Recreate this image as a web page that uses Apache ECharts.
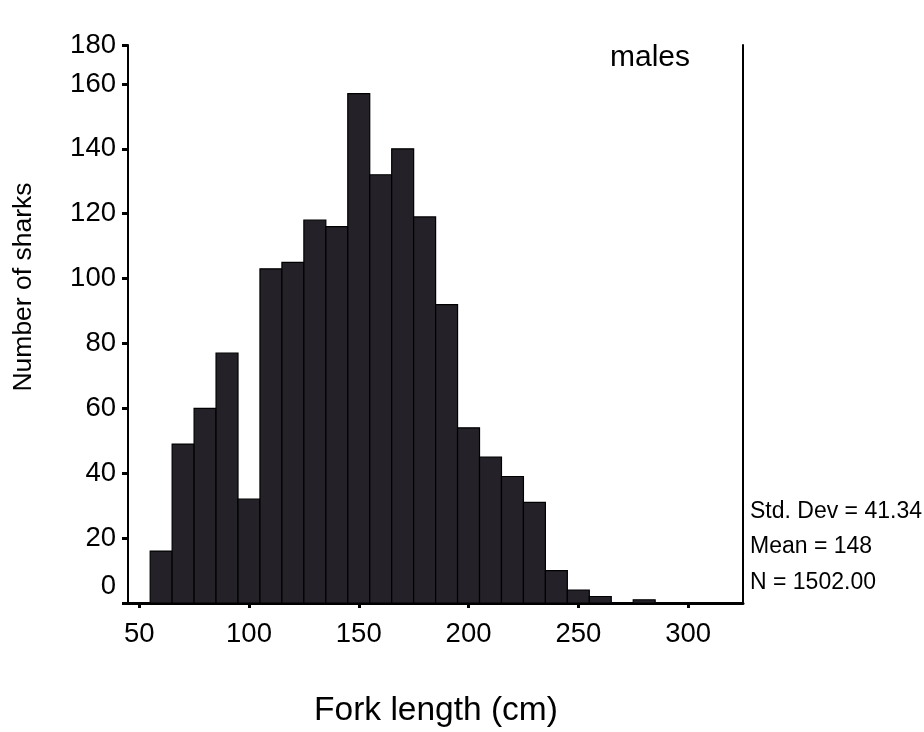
<!DOCTYPE html>
<html>
<head>
<meta charset="utf-8">
<script src="https://cdn.jsdelivr.net/npm/echarts@6/dist/echarts.min.js"></script>
<style>
  html, body { margin: 0; padding: 0; background: #fff; }
  #chart { width: 924px; height: 732px; }
</style>
</head>
<body>
<div id="chart"></div>
<script>
// Fork-length histogram of male sharks, 10 cm bins starting at 55 cm
const binStarts = [55, 65, 75, 85, 95, 105, 115, 125, 135, 145, 155, 165, 175, 185, 195, 205, 215, 225, 235, 245, 255, 265, 275];
const binWidth = 10;
const counts = [16, 49, 60, 77, 32, 103, 105, 118, 116, 157, 132, 140, 119, 92, 54, 45, 39, 31, 10, 4, 2, 0, 1];

const xTicks = [50, 100, 150, 200, 250, 300];
const yTicks = [0, 20, 40, 60, 80, 100, 120, 140, 160];
const yTop = 172;
const yTickLabels = ['0', '20', '40', '60', '80', '100', '120', '140', '160', '180'];

const statLines = ['Std. Dev = 41.34', 'Mean = 148', 'N = 1502.00'];
const panelLabel = 'males';
const xTitle = 'Fork length (cm)';
const yTitle = 'Number of sharks';

const FONT = "'Liberation Sans', Arial, Helvetica, sans-serif";

const bins = binStarts.map((s, i) => [s, s + binWidth, counts[i]]);
const yLabelValues = yTicks.concat([yTop]);

const chart = echarts.init(document.getElementById('chart'), null, { renderer: 'canvas' });

chart.setOption({
  animation: false,
  backgroundColor: '#ffffff',
  grid: { left: 128, right: 181, top: 45, bottom: 129, containLabel: false },
  xAxis: {
    type: 'value',
    min: 44.9,
    max: 325,
    splitLine: { show: false },
    axisLine: { show: true, onZero: false, lineStyle: { color: '#000', width: 3 } },
    axisTick: { show: true, customValues: xTicks, length: 5, lineStyle: { color: '#000', width: 3 } },
    axisLabel: {
      customValues: xTicks,
      margin: 17,
      color: '#000',
      fontFamily: FONT,
      fontSize: 27.5
    }
  },
  yAxis: [
    {
      type: 'value',
      min: 0,
      max: yTop,
      position: 'left',
      splitLine: { show: false },
      axisLine: { show: true, lineStyle: { color: '#000', width: 2 } },
      axisTick: { show: true, customValues: yLabelValues, length: 6, lineStyle: { color: '#000', width: 3 } },
      axisLabel: {
        customValues: yLabelValues,
        margin: 12,
        color: '#000',
        fontFamily: FONT,
        fontSize: 27.5,
        formatter: function (v) {
          const i = yLabelValues.indexOf(v);
          const txt = yTickLabels[i];
          return v === 0 ? '{zero|' + txt + '}' : txt;
        },
        rich: {
          zero: { fontFamily: FONT, fontSize: 27.5, color: '#000', padding: [0, 0, 33, 0] }
        }
      }
    },
    {
      type: 'value',
      min: 0,
      max: yTop,
      position: 'right',
      splitLine: { show: false },
      axisLine: { show: true, lineStyle: { color: '#000', width: 2 } },
      axisTick: { show: false },
      axisLabel: { show: false }
    }
  ],
  series: [
    {
      type: 'custom',
      xAxisIndex: 0,
      yAxisIndex: 0,
      encode: { x: [0, 1], y: 2 },
      data: bins,
      renderItem: function (params, api) {
        const topLeft = api.coord([api.value(0), api.value(2)]);
        const bottomRight = api.coord([api.value(1), 0]);
        return {
          type: 'rect',
          shape: {
            x: topLeft[0],
            y: topLeft[1],
            width: bottomRight[0] - topLeft[0],
            height: bottomRight[1] - topLeft[1]
          },
          style: { fill: '#242128', stroke: '#000', lineWidth: 1.2 }
        };
      }
    }
  ],
  graphic: [
    {
      type: 'text', left: 610, top: 43,
      style: { text: panelLabel, font: '30px ' + FONT, fill: '#000' }
    },
    {
      type: 'text', x: 24, y: 287, rotation: Math.PI / 2,
      style: { text: yTitle, font: '26.5px ' + FONT, fill: '#000', align: 'center', verticalAlign: 'middle' }
    },
    {
      type: 'text', x: 436, y: 711,
      style: { text: xTitle, font: '33.5px ' + FONT, fill: '#000', align: 'center', verticalAlign: 'middle' }
    },
    {
      type: 'text', x: 750, y: 512,
      style: { text: statLines[0], font: '23px ' + FONT, fill: '#000', verticalAlign: 'middle' }
    },
    {
      type: 'text', x: 750, y: 547,
      style: { text: statLines[1], font: '23px ' + FONT, fill: '#000', verticalAlign: 'middle' }
    },
    {
      type: 'text', x: 750, y: 583,
      style: { text: statLines[2], font: '23px ' + FONT, fill: '#000', verticalAlign: 'middle' }
    }
  ]
});
</script>
</body>
</html>
